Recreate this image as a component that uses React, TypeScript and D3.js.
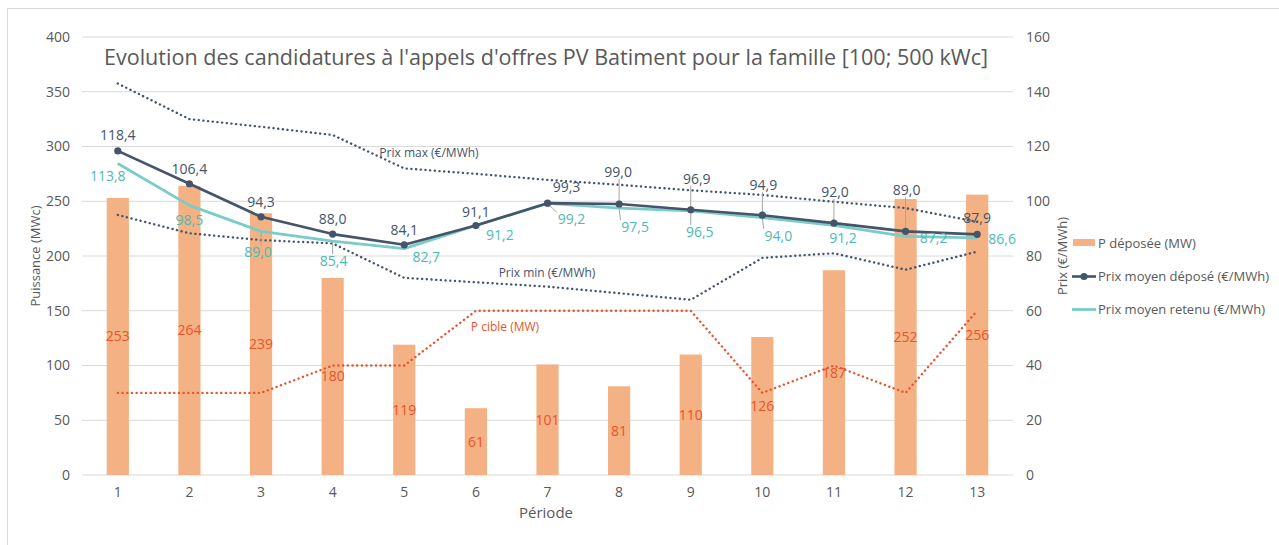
import React from "react";
import * as d3 from "d3";

const periods = ["1", "2", "3", "4", "5", "6", "7", "8", "9", "10", "11", "12", "13"];
const pDeposee = [253, 264, 239, 180, 119, 61, 101, 81, 110, 126, 187, 252, 256];
const pCible = [75, 75, 75, 100, 100, 150, 150, 150, 150, 75, 100, 75, 150];
const prixMoyenDepose = [118.4, 106.4, 94.3, 88.0, 84.1, 91.1, 99.3, 99.0, 96.9, 94.9, 92.0, 89.0, 87.9];
const prixMoyenRetenu = [113.8, 98.5, 89.0, 85.4, 82.7, 91.2, 99.2, 97.5, 96.5, 94.0, 91.2, 87.2, 86.6];
const prixMax = [143, 130, 127.2, 124.2, 112, 110, 107.8, 106, 104, 102.3, 99.8, 97.5, 92.5];
const prixMin = [95, 88.3, 85.8, 84.6, 72, 70.4, 68.8, 66.4, 64, 79.3, 81, 75, 81.6];
const leftTicks = [0, 50, 100, 150, 200, 250, 300, 350, 400];
const rightTicks = [0, 20, 40, 60, 80, 100, 120, 140, 160];

// label placement offsets (layout, px)
const deposeLabelOffsets: [number, number][] = [
  [0, -16], [0, -15], [0, -15], [0, -15], [0, -15], [0, -14], [19, -16],
  [-1, -32], [6, -31], [1, -30], [1, -31], [1, -41], [0, -16],
];
const retenuLabelOffsets: [number, number][] = [
  [-10, 13], [0, 15], [-3, 21], [1, 20], [22, 8], [24, 10], [24, 16],
  [16, 19], [9, 21], [16, 18], [9, 13], [28, 2], [25, 1],
];

const W = 1279;
const H = 545;
const FONT = "'Open Sans', 'Noto Sans', sans-serif";
const GREY = "#595959";
const NAVY = "#44546A";
const TEAL = "#7ACCC8";
const TEAL_TXT = "#4DBAB3";
const BAR = "#F4B183";
const ORANGE = "#E8542E";

const fmt = (v: number) => v.toFixed(1).replace(".", ",");

export default function App() {
  const x = d3.scaleBand<string>().domain(periods).range([82, 1013]).paddingInner(0.69).paddingOuter(0.345);
  const cx = (i: number) => (x(periods[i]) as number) + x.bandwidth() / 2;
  const yL = d3.scaleLinear().domain([0, 400]).range([475, 37]);
  const yR = d3.scaleLinear().domain([0, 160]).range([475, 37]);

  const lineR = d3.line<number>().x((_, i) => cx(i)).y((d) => yR(d));
  const lineL = d3.line<number>().x((_, i) => cx(i)).y((d) => yL(d));

  const leader = (px: number, py: number, lx: number, ly: number, txt: string, key: string) => {
    const hw = (txt.length * 7.3) / 2;
    const hh = 7;
    const qx = Math.max(lx - hw, Math.min(px, lx + hw));
    const qy = Math.max(ly - hh, Math.min(py, ly + hh));
    const dist = Math.hypot(px - qx, py - qy);
    if (dist < 11) return null;
    return <line key={key} x1={px} y1={py} x2={qx} y2={qy} stroke="#A6A6A6" strokeWidth={1} />;
  };

  const dotted = { fill: "none", strokeWidth: 2.4, strokeDasharray: "0.1,4.6", strokeLinecap: "round" as const };

  return (
    <svg width={W} height={H} style={{ position: "absolute", left: 0, top: 0, background: "#fff" }} fontFamily={FONT}>
      <rect x={0} y={0} width={W} height={H} fill="#fff" />
      <rect x={7.5} y={8.5} width={W + 20} height={H + 20} fill="none" stroke="#D9D9D9" strokeWidth={1} />

      {/* gridlines */}
      {leftTicks.map((t) => (
        <line key={"g" + t} x1={82} x2={1013} y1={yL(t)} y2={yL(t)} stroke="#D9D9D9" strokeWidth={1} />
      ))}

      {/* left tick labels */}
      {leftTicks.map((t) => (
        <text key={"lt" + t} x={70} y={yL(t)} dy="0.35em" textAnchor="end" fontSize={14} fill={GREY}>
          {t}
        </text>
      ))}
      {/* right tick labels */}
      {rightTicks.map((t) => (
        <text key={"rt" + t} x={1026} y={yR(t)} dy="0.35em" textAnchor="start" fontSize={14} fill={GREY}>
          {t}
        </text>
      ))}
      {/* x tick labels */}
      {periods.map((p, i) => (
        <text key={"xt" + p} x={cx(i)} y={492} dy="0.35em" textAnchor="middle" fontSize={14} fill={GREY}>
          {p}
        </text>
      ))}

      {/* axis titles */}
      <text x={546} y={513} dy="0.35em" textAnchor="middle" fontSize={15} fill={GREY}>Période</text>
      <text transform="translate(35,256) rotate(-90)" dy="0.35em" textAnchor="middle" fontSize={13} fill={GREY}>
        Puissance (MWc)
      </text>
      <text transform="translate(1062,256) rotate(-90)" dy="0.35em" textAnchor="middle" fontSize={13} fill={GREY}>
        Prix (€/MWh)
      </text>

      {/* title */}
      <text x={546} y={65} textAnchor="middle" fontSize={22} fill={GREY} textLength={884} lengthAdjust="spacingAndGlyphs">
        Evolution des candidatures à l'appels d'offres PV Batiment pour la famille [100; 500 kWc]
      </text>

      {/* bars */}
      {pDeposee.map((v, i) => (
        <rect key={"b" + i} x={x(periods[i])} y={yL(v)} width={x.bandwidth()} height={yL(0) - yL(v)} fill={BAR} />
      ))}

      {/* dotted lines */}
      <path d={lineR(prixMax) || ""} stroke={NAVY} {...dotted} />
      <path d={lineR(prixMin) || ""} stroke={NAVY} {...dotted} />
      <path d={lineL(pCible) || ""} stroke={ORANGE} {...dotted} />

      {/* dotted line annotations */}
      <text x={429} y={153} dy="0.35em" textAnchor="middle" fontSize={12} fill={NAVY}>Prix max (€/MWh)</text>
      <text x={547} y={273} dy="0.35em" textAnchor="middle" fontSize={12} fill={NAVY}>Prix min (€/MWh)</text>
      <text x={505} y={327} dy="0.35em" textAnchor="middle" fontSize={12} fill={ORANGE}>P cible (MW)</text>

      {/* leader lines */}
      {prixMoyenDepose.map((v, i) =>
        leader(cx(i), yR(v), cx(i) + deposeLabelOffsets[i][0], yR(v) + deposeLabelOffsets[i][1], fmt(v), "ld" + i)
      )}
      {prixMoyenRetenu.map((v, i) =>
        leader(cx(i), yR(v), cx(i) + retenuLabelOffsets[i][0], yR(v) + retenuLabelOffsets[i][1], fmt(v), "lr" + i)
      )}

      {/* price lines */}
      <path d={lineR(prixMoyenRetenu) || ""} fill="none" stroke={TEAL} strokeWidth={2.8} strokeLinejoin="round" />
      <path d={lineR(prixMoyenDepose) || ""} fill="none" stroke={NAVY} strokeWidth={2.6} strokeLinejoin="round" />
      {prixMoyenDepose.map((v, i) => (
        <circle key={"m" + i} cx={cx(i)} cy={yR(v)} r={3.6} fill={NAVY} />
      ))}

      {/* bar labels */}
      {pDeposee.map((v, i) => (
        <text key={"bl" + i} x={cx(i)} y={yL(v / 2)} dy="0.35em" textAnchor="middle" fontSize={14} fill={ORANGE}>
          {v}
        </text>
      ))}

      {/* price labels */}
      {prixMoyenDepose.map((v, i) => (
        <text key={"dl" + i} x={cx(i) + deposeLabelOffsets[i][0]} y={yR(v) + deposeLabelOffsets[i][1]} dy="0.35em"
          textAnchor="middle" fontSize={14} fill={NAVY}>
          {fmt(v)}
        </text>
      ))}
      {prixMoyenRetenu.map((v, i) => (
        <text key={"rl" + i} x={cx(i) + retenuLabelOffsets[i][0]} y={yR(v) + retenuLabelOffsets[i][1]} dy="0.35em"
          textAnchor="middle" fontSize={14} fill={TEAL_TXT}>
          {fmt(v)}
        </text>
      ))}

      {/* legend */}
      <rect x={1073} y={239} width={22} height={7} fill={BAR} />
      <text x={1098} y={243} dy="0.35em" fontSize={13} fill={GREY}>P déposée (MW)</text>
      <line x1={1072} x2={1096} y1={276.5} y2={276.5} stroke={NAVY} strokeWidth={2.6} />
      <circle cx={1084} cy={276.5} r={3.6} fill={NAVY} />
      <text x={1098} y={276.5} dy="0.35em" fontSize={13} fill={GREY}>Prix moyen déposé (€/MWh)</text>
      <line x1={1072} x2={1096} y1={309.5} y2={309.5} stroke={TEAL} strokeWidth={2.8} />
      <text x={1098} y={309.5} dy="0.35em" fontSize={13} fill={GREY}>Prix moyen retenu (€/MWh)</text>
    </svg>
  );
}
